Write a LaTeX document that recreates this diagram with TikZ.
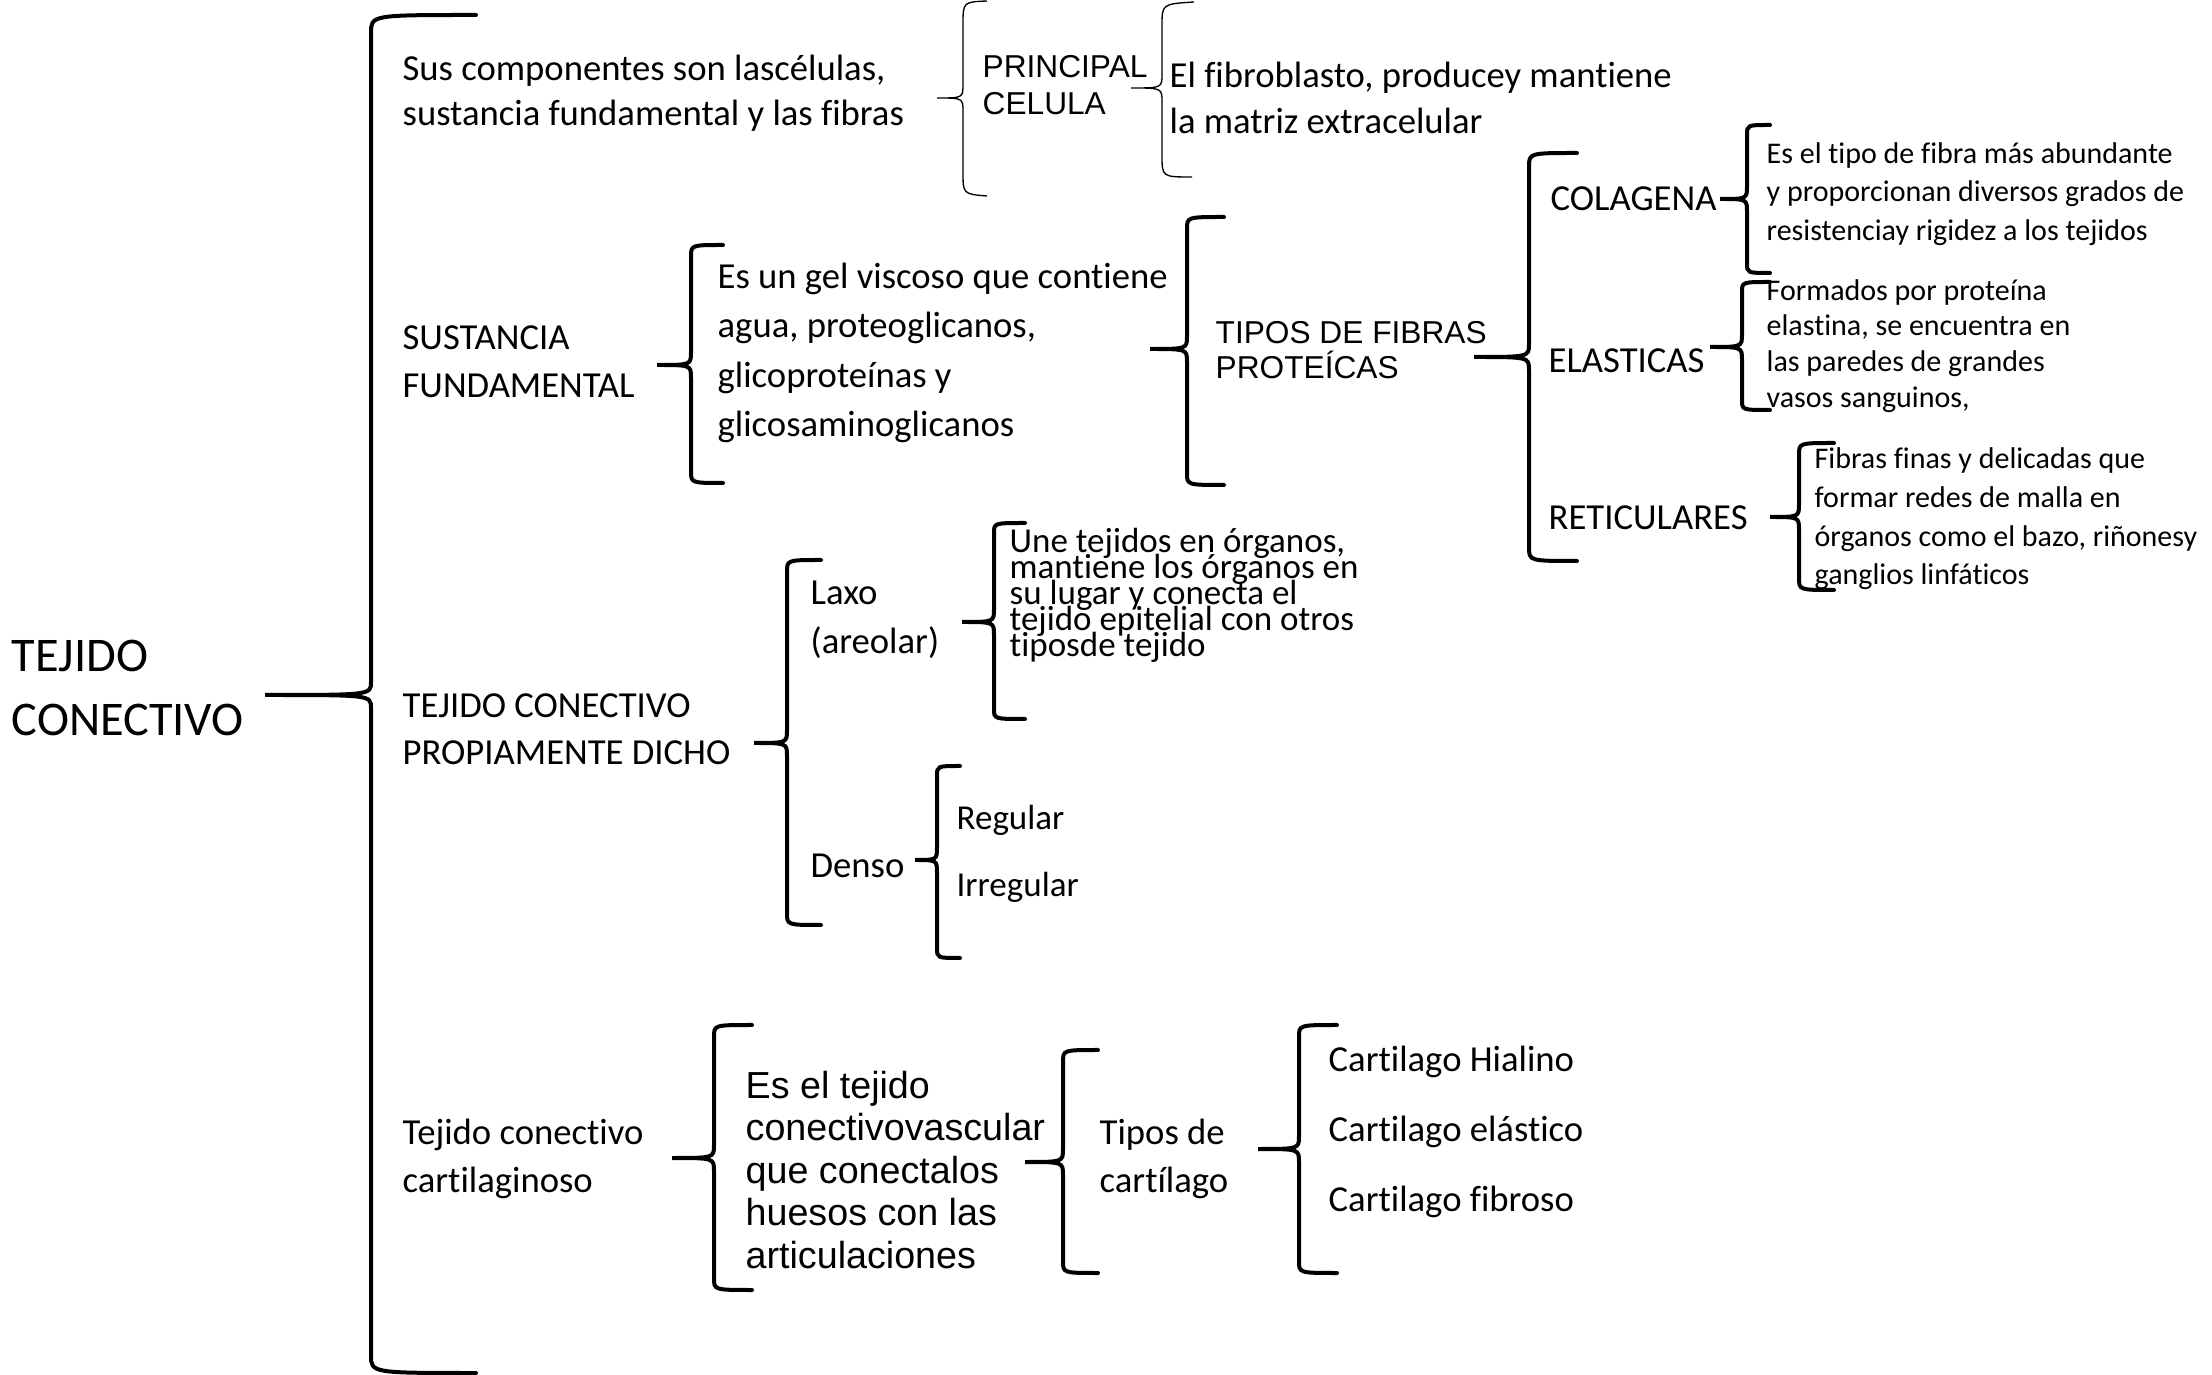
\documentclass[tikz,border=0pt]{standalone}
\usepackage{fontspec}
\setmainfont{Carlito}[Ligatures=NoCommon]
\newfontfamily\arialfont{Liberation Sans}
\usepackage{tikz}
\usetikzlibrary{positioning}

\newcommand{\tam}[2]{\fontsize{#1}{#2}\selectfont\lineskiplimit=-\maxdimen}
\newcommand{\llave}[8][]{%
  \draw[llave,#1] (#7,#3) .. controls (#2,#3) .. (#2,#3+#8)
    -- (#2,#6-13) .. controls (#2,#6) .. (#5,#6)
    .. controls (#2,#6) .. (#2,#6+13)
    -- (#2,#4-#8) .. controls (#2,#4) .. (#7,#4);}

\begin{document}
\begin{tikzpicture}[x=0.3pt,y=-0.3pt,
  txt/.style={anchor=west,align=left,inner sep=0pt,font=\tam{11}{13.5}},
  llave/.style={line width=1.2pt,line cap=round},
  llave fina/.style={line width=0.4pt}
]
  \useasboundingbox (0,0) rectangle (2212,1375);

  \node[txt,font=\tam{14.5}{19}] (tejido) at (11,688) {TEJIDO\\CONECTIVO};
  \node[txt] (componentes) at (402,93) {Sus componentes son lascélulas,\\sustancia fundamental y las fibras};
  \node[txt,font=\arialfont\tam{9.5}{11}] (principal) at (982,85) {PRINCIPAL\\CELULA};
  \node[txt,font=\tam{11}{14}] (fibroblasto) at (1169,98) {El fibroblasto, producey mantiene\\la matriz extracelular};
  \node[txt,font=\tam{11}{14.4}] (sustancia) at (402,362) {SUSTANCIA\\FUNDAMENTAL};
  \node[txt,font=\tam{11}{14.8}] (gel) at (717,353) {Es un gel viscoso que contiene\\agua, proteoglicanos,\\glicoproteínas y\\glicosaminoglicanos};
  \node[txt,font=\arialfont\tam{9.5}{10.6}] (fibras) at (1215,350) {TIPOS DE FIBRAS\\PROTEÍCAS};
  \node[txt] (colagena) at (1550,199) {COLAGENA};
  \node[txt] (elasticas) at (1548,361) {ELASTICAS};
  \node[txt] (reticulares) at (1548,518) {RETICULARES};
  \node[txt,font=\tam{9}{11.6}] (colagenatxt) at (1766,194) {Es el tipo de fibra más abundante\\y proporcionan diversos grados de\\resistenciay rigidez a los tejidos};
  \node[txt,font=\tam{9}{10.7}] (elasticastxt) at (1766,346) {Formados por proteína\\elastina, se encuentra en\\las paredes de grandes\\vasos sanguinos,};
  \node[txt,font=\tam{9}{11.6}] (reticularestxt) at (1814,519) {Fibras finas y delicadas que\\formar redes de malla en\\órganos como el bazo, riñonesy\\ganglios linfáticos};
  \node[txt,font=\tam{11}{14}] (propio) at (402,729) {TEJIDO CONECTIVO\\PROPIAMENTE DICHO};
  \node[txt,font=\tam{11}{14.8}] (laxo) at (810,620) {Laxo\\(areolar)};
  \node[txt,font=\tam{10.5}{7.8}] (laxotxt) at (1009,595) {Une tejidos en órganos,\\mantiene los órganos en\\su lugar y conecta el\\tejido epitelial con otros\\tiposde tejido};
  \node[txt] (denso) at (810,866) {Denso};
  \node[txt,font=\tam{10.5}{12}] (regular) at (956,820) {Regular};
  \node[txt,font=\tam{10.5}{12}] (irregular) at (956,887) {Irregular};
  \node[txt,font=\tam{11}{14.4}] (cartilaginoso) at (402,1159) {Tejido conectivo\\cartilaginoso};
  \node[txt,font=\arialfont\tam{11.3}{12.75}] (vascular) at (745,1170) {Es el tejido\\conectivovascular\\que conectalos\\huesos con las\\articulaciones};
  \node[txt,font=\tam{11}{14.4}] (tiposcart) at (1099,1159) {Tipos de\\cartílago};
  \node[txt] (hialino) at (1328,1062) {Cartilago Hialino};
  \node[txt] (elastico) at (1328,1132) {Cartilago elástico};
  \node[txt] (fibroso) at (1328,1202) {Cartilago fibroso};

  \llave{371}{15}{1373}{265}{695}{476}{18}
  \llave{691}{245}{483}{657}{365}{723}{12}
  \llave{1187}{217}{485}{1150}{349}{1224}{12}
  \llave{1529}{153}{561}{1474}{357}{1577}{14}
  \llave{1747}{125}{273}{1720}{199}{1770}{10}
  \llave{1742}{282}{410}{1710}{347}{1770}{10}
  \llave{1799}{443}{590}{1770}{517}{1834}{12}
  \llave{787}{560}{925}{754}{743}{821}{12}
  \llave{994}{523}{719}{962}{622}{1025}{10}
  \llave{937}{766}{958}{915}{860}{960}{10}
  \llave{714}{1025}{1290}{672}{1158}{752}{12}
  \llave{1063}{1050}{1273}{1025}{1162}{1098}{12}
  \llave{1299}{1025}{1273}{1258}{1149}{1337}{12}

  \draw[llave fina] (987,1) .. controls (963,2) .. (963,25) -- (963,84)
    .. controls (963,98) .. (937,98) .. controls (963,98) .. (963,112)
    -- (963,172) .. controls (963,194) .. (987,196);
  \draw[llave fina] (1194,2) .. controls (1162,4) .. (1162,26) -- (1162,74)
    .. controls (1162,88) .. (1131,88) .. controls (1162,88) .. (1162,102)
    -- (1162,155) .. controls (1162,177) .. (1192,177);
\end{tikzpicture}
\end{document}
